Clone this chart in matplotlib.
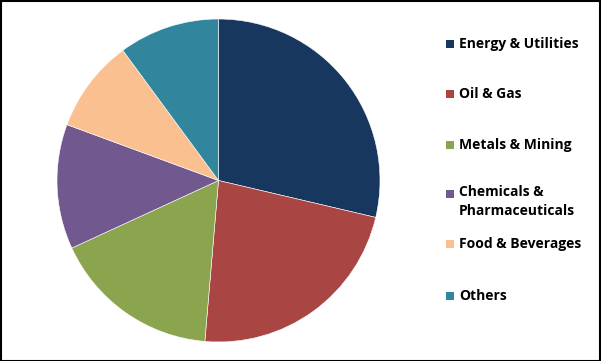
import matplotlib.pyplot as plt
from matplotlib.patches import Rectangle

labels = ["Energy & Utilities", "Oil & Gas", "Metals & Mining",
          "Chemicals &\nPharmaceuticals", "Food & Beverages", "Others"]
shares = [28.7, 22.7, 16.8, 12.5, 9.3, 10.1]
colors = ["#17375E", "#A94643", "#8BA54E", "#71588F", "#FAC090", "#31859C"]

W, H = 601, 361
fig = plt.figure(figsize=(W / 100, H / 100), dpi=100)

# pie centre ~ (218, 180) px, radius ~161 px
cx, cy, r = 218.5, 180.5, 161.5
ax = fig.add_axes([(cx - r) / W, (H - cy - r) / H, 2 * r / W, 2 * r / H])
ax.pie(shares, colors=colors, startangle=90, counterclock=False,
       wedgeprops={"edgecolor": "white", "linewidth": 0.4})
ax.set_xlim(-1, 1)
ax.set_ylim(-1, 1)
ax.set_aspect("equal")

# legend by hand, marker next to the first line of each label
leg_y = [44, 94, 145, 194, 244, 296]
for lab, col, y in zip(labels, colors, leg_y):
    fig.patches.append(Rectangle((446 / W, 1 - (y + 4) / H), 8 / W, 8 / H,
                                 transform=fig.transFigure, facecolor=col,
                                 edgecolor="none"))
    if "\n" in lab:
        fig.text(459 / W, 1 - (y - 9) / H, lab, fontsize=10, fontweight="bold",
                 family="Open Sans", va="top", ha="left", linespacing=1.45)
    else:
        fig.text(459 / W, 1 - y / H, lab, fontsize=10, fontweight="bold",
                 family="Open Sans", va="center", ha="left")

# outer border
fig.patches.append(Rectangle((0.5 / W, 0.5 / H), 1 - 1.5 / W, 1 - 1.5 / H,
                             transform=fig.transFigure, facecolor="none",
                             edgecolor="black", linewidth=1.5))

fig.savefig("out.png", dpi=100)
